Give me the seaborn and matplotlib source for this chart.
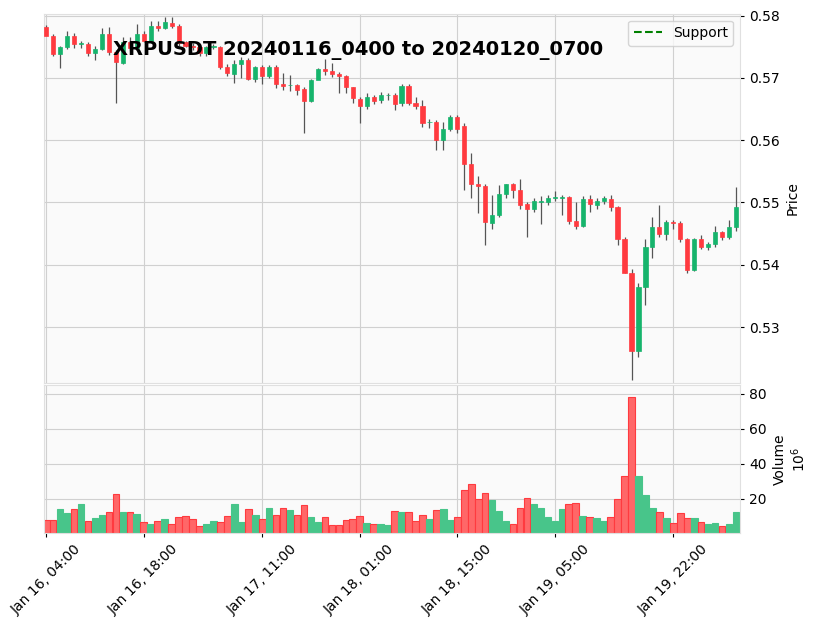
import numpy as np
import pandas as pd
import matplotlib
matplotlib.use('Agg')
import matplotlib.pyplot as plt
import seaborn as sns
from matplotlib.lines import Line2D

# hourly candles, 2024-01-16 04:00 .. 2024-01-20 07:00
times = pd.date_range('2024-01-16 04:00', periods=100, freq='h')

opens = [.5781, .5768, .5739, .5749, .5768, .5755, .5755, .5740, .5747, .5771,
         .5741, .5724, .5758, .5748, .5771, .5760, .5784, .5780, .5788, .5783,
         .5757, .5752, .5750, .5740, .5750, .5750, .5718, .5707, .5723, .5729,
         .5699, .5717, .5703, .5718, .5690, .5688, .5688, .5683, .5663, .5697,
         .5714, .5711, .5707, .5703, .5685, .5666, .5655, .5670, .5664, .5672,
         .5673, .5660, .5687, .5660, .5655, .5629, .5629, .5600, .5618, .5637,
         .5623, .5562, .5529, .5527, .5467, .5480, .5513, .5529, .5520, .5497,
         .5490, .5501, .5500, .5507, .5508, .5509, .5471, .5463, .5505, .5496,
         .5503, .5505, .5493, .5442, .5387, .5262, .5365, .5428, .5461, .5449,
         .5469, .5467, .5442, .5392, .5441, .5428, .5433, .5453, .5444, .5460]
closes = [.5768, .5739, .5749, .5768, .5755, .5755, .5740, .5747, .5771, .5742,
          .5726, .5758, .5748, .5771, .5760, .5784, .5780, .5790, .5783, .5756,
          .5752, .5750, .5740, .5750, .5750, .5718, .5708, .5723, .5729, .5698,
          .5717, .5703, .5718, .5690, .5687, .5688, .5680, .5663, .5697, .5714,
          .5711, .5707, .5703, .5685, .5668, .5655, .5670, .5663, .5673, .5672,
          .5658, .5687, .5660, .5655, .5628, .5629, .5600, .5618, .5637, .5618,
          .5561, .5529, .5527, .5468, .5480, .5513, .5529, .5520, .5496, .5490,
          .5503, .5501, .5507, .5509, .5509, .5471, .5463, .5505, .5497, .5503,
          .5507, .5493, .5442, .5387, .5262, .5365, .5428, .5461, .5449, .5469,
          .5467, .5442, .5392, .5441, .5428, .5433, .5453, .5444, .5460, .5492]
highs = [.5785, .5770, .5752, .5775, .5772, .5760, .5758, .5752, .5780, .5782,
         .5745, .5765, .5765, .5787, .5775, .5792, .5792, .5798, .5798, .5786,
         .5760, .5756, .5755, .5752, .5755, .5752, .5722, .5728, .5733, .5732,
         .5719, .5720, .5721, .5720, .5708, .5705, .5690, .5685, .5699, .5716,
         .5730, .5724, .5710, .5705, .5686, .5670, .5675, .5673, .5678, .5675,
         .5675, .5690, .5690, .5670, .5665, .5634, .5632, .5630, .5640, .5640,
         .5627, .5580, .5542, .5530, .5512, .5528, .5530, .5532, .5537, .5500,
         .5508, .5510, .5512, .5518, .5512, .5511, .5500, .5510, .5512, .5507,
         .5511, .5512, .5495, .5445, .5393, .5370, .5442, .5476, .5496, .5472,
         .5472, .5470, .5443, .5443, .5448, .5436, .5463, .5455, .5472, .5525]
lows = [.5773, .5736, .5716, .5746, .5748, .5748, .5736, .5729, .5745, .5737,
        .5660, .5722, .5744, .5745, .5757, .5756, .5776, .5778, .5780, .5752,
        .5749, .5745, .5735, .5735, .5746, .5714, .5703, .5692, .5700, .5696,
        .5694, .5690, .5700, .5684, .5680, .5679, .5672, .5612, .5662, .5698,
        .5705, .5702, .5676, .5675, .5660, .5628, .5650, .5658, .5660, .5664,
        .5648, .5655, .5657, .5650, .5622, .5620, .5585, .5585, .5614, .5612,
        .5520, .5507, .5483, .5431, .5458, .5476, .5508, .5508, .5490, .5445,
        .5484, .5466, .5496, .5503, .5480, .5466, .5458, .5460, .5485, .5490,
        .5498, .5486, .5432, .5386, .5215, .5252, .5335, .5411, .5444, .5440,
        .5458, .5437, .5386, .5390, .5426, .5424, .5428, .5440, .5442, .5455]
volumes = [7.8, 7.8, 14.3, 12.0, 14.3, 17.1, 7.4, 9.1, 10.9, 12.6,
           22.9, 12.6, 12.6, 11.4, 6.9, 5.7, 7.4, 8.6, 5.7, 9.7,
           10.3, 8.6, 4.6, 5.7, 7.4, 6.9, 10.3, 17.1, 6.9, 14.3,
           10.9, 8.6, 14.9, 10.9, 14.9, 13.7, 10.9, 16.6, 9.7, 6.9,
           9.7, 5.1, 5.1, 8.0, 8.6, 10.3, 6.3, 5.7, 5.7, 5.1,
           13.1, 12.6, 12.6, 7.4, 10.9, 8.6, 13.7, 14.3, 8.0, 9.7,
           25.1, 28.6, 20.0, 23.4, 19.4, 13.1, 7.4, 5.7, 14.9, 20.6,
           17.1, 14.9, 9.7, 7.4, 14.3, 17.1, 17.7, 10.3, 9.7, 9.1,
           7.4, 9.7, 20.0, 33.1, 78.3, 33.1, 22.3, 14.9, 12.6, 9.1,
           6.3, 12.0, 9.1, 9.1, 6.9, 5.7, 6.3, 4.6, 5.7, 12.6]

tick_idx = [0, 14, 31, 45, 59, 73, 90]
tick_labels = [times[i].strftime('%b %d, %H:%M') for i in tick_idx]

df = pd.DataFrame({'open': opens, 'high': highs, 'low': lows,
                   'close': closes, 'volume': volumes})
df['x'] = np.arange(len(df))
df['up'] = df['close'] >= df['open']

sns.set_style('whitegrid', {'axes.facecolor': '#fafafa', 'grid.color': '#d0d0d0',
                            'axes.edgecolor': '#e0e0e0', 'text.color': 'black',
                            'xtick.color': 'black', 'ytick.color': 'black',
                            'axes.labelcolor': 'black'})
plt.rcParams['font.family'] = ['DejaVu Sans']

UP, DOWN = '#16b46c', '#ff3a3f'
VUP, VDOWN = '#48c58a', '#ff6768'

fig = plt.figure(figsize=(8.17, 6.26), dpi=100)
ax = fig.add_axes([0.054, 0.388, 0.852, 0.590])
axv = fig.add_axes([0.054, 0.149, 0.852, 0.236], sharex=ax)

colors = np.where(df['up'], UP, DOWN)
ax.vlines(df['x'], df['low'], df['high'], color='#555555', linewidth=0.9, zorder=2)
body = (df['close'] - df['open']).abs().clip(lower=0.00006)
ax.bar(df['x'], body, bottom=df[['open', 'close']].min(axis=1), width=0.6,
       color=colors, edgecolor=colors, linewidth=0.5, zorder=3)
ax.set_ylim(0.5210, 0.5803)
ax.yaxis.tick_right()
ax.yaxis.set_label_position('right')
ax.set_ylabel('Price')
ax.set_yticks([0.53, 0.54, 0.55, 0.56, 0.57, 0.58])
ax.tick_params(axis='x', labelbottom=False, length=0)
ax.tick_params(axis='y', length=3)
ax.legend(handles=[Line2D([], [], color='green', linestyle='--', label='Support')],
          loc='upper right')

vcol = np.where(df['up'], VUP, VDOWN)
vedge = np.where(df['up'], VUP, DOWN)
axv.bar(df['x'], df['volume'], width=0.95, color=vcol, edgecolor=vedge, linewidth=0.8)
axv.set_ylim(0.5, 85)
axv.set_yticks([20, 40, 60, 80])
axv.yaxis.tick_right()
axv.yaxis.set_label_position('right')
axv.set_ylabel('Volume\n$10^6$')
axv.set_xlim(-0.3, 99.6)
axv.set_xticks(tick_idx)
axv.set_xticklabels(tick_labels, rotation=45, ha='center')
axv.tick_params(axis='x', length=3, bottom=True)
axv.tick_params(axis='y', length=3)

fig.text(0.438, 0.92, 'XRPUSDT 20240116_0400 to 20240120_0700',
         ha='center', va='center', fontsize=14, fontweight='bold', color='black')

fig.savefig('out.png', dpi=100)
